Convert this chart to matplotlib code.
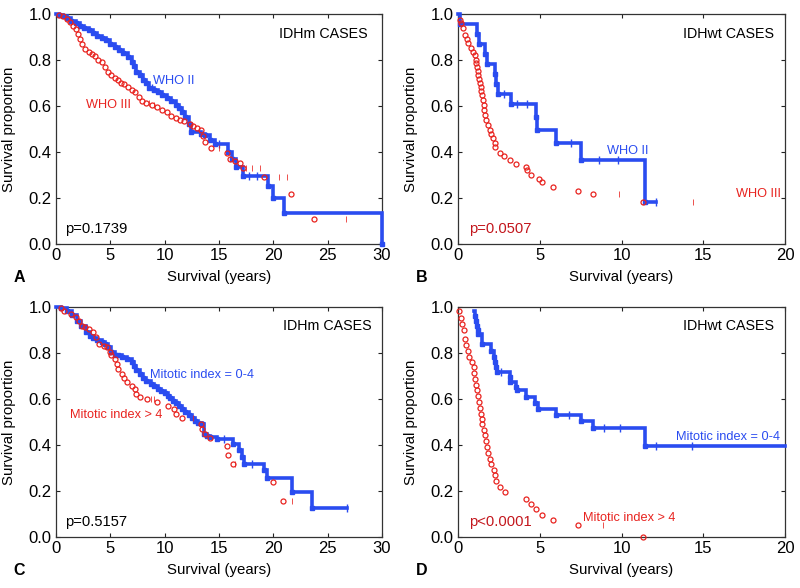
import matplotlib
matplotlib.use("Agg")
import matplotlib.pyplot as plt
import numpy as np

plt.rcParams['font.family'] = ['Liberation Sans', 'DejaVu Sans']

BLUE = '#2a4cf0'
RED = '#e8231f'
DARKRED = '#c3161c'

# ---------------- Panel A: IDHm, WHO II vs WHO III ----------------
A_blue_t = [0.3, 0.6, 1.0, 1.4, 1.8, 2.2, 2.6, 3.0, 3.4, 3.8, 4.2, 4.6, 5.0, 5.4, 5.8, 6.2, 6.6,
            7.0, 7.2, 7.4, 7.7, 8.0, 8.3, 8.6, 9.0, 9.4, 9.8, 10.2, 10.6, 11.0, 11.3, 11.6, 11.9,
            12.2, 12.4, 13.3, 13.7, 14.2, 14.6, 15.85, 16.2, 16.6, 17.2, 19.5, 20.0, 21.0, 30.0]
A_blue_s = [0.997, 0.992, 0.982, 0.972, 0.962, 0.950, 0.941, 0.931, 0.920, 0.906, 0.896, 0.888,
            0.872, 0.858, 0.845, 0.830, 0.815, 0.790, 0.775, 0.750, 0.735, 0.715, 0.700, 0.680,
            0.672, 0.660, 0.648, 0.636, 0.620, 0.605, 0.592, 0.575, 0.552, 0.520, 0.486, 0.480,
            0.474, 0.452, 0.433, 0.400, 0.370, 0.335, 0.295, 0.252, 0.200, 0.133, 0.0]
A_blue_end = 30.0
A_blue_cens_t = [8.8, 15.0, 17.8, 18.5]
A_blue_cens_s = [0.680, 0.433, 0.295, 0.295]

A_red_t = [0.3, 0.6, 1.0, 1.3, 1.6, 1.8, 2.0, 2.2, 2.4, 2.7, 3.0, 3.3, 3.6, 3.9, 4.2, 4.5, 4.8, 5.1,
           5.4, 5.7, 6.0, 6.3, 6.6, 7.0, 7.3, 7.6, 7.9, 8.3, 8.8, 9.3, 9.8, 10.2, 10.6, 11.0, 11.4,
           11.8, 12.3, 12.6, 13.0, 13.3, 13.5, 13.7, 14.3, 15.7, 16.0, 16.5, 16.9, 17.2, 19.1,
           21.6, 23.7]
A_red_s = [0.995, 0.99, 0.98, 0.965, 0.95, 0.935, 0.915, 0.89, 0.87, 0.848, 0.835, 0.828, 0.818,
           0.80, 0.79, 0.77, 0.75, 0.735, 0.72, 0.712, 0.70, 0.694, 0.685, 0.672, 0.66, 0.64,
           0.62, 0.612, 0.605, 0.597, 0.585, 0.575, 0.558, 0.548, 0.54, 0.533, 0.522, 0.515,
           0.505, 0.495, 0.47, 0.445, 0.416, 0.394, 0.37, 0.36, 0.354, 0.33, 0.293, 0.217, 0.109]
A_red_cens_t = [8.6, 9.0, 15.0, 17.5, 18.0, 18.8, 20.5, 21.3, 26.7]
A_red_cens_s = [0.612, 0.605, 0.416, 0.33, 0.33, 0.33, 0.293, 0.293, 0.109]

# ---------------- Panel B: IDHwt, WHO II vs WHO III ----------------
B_blue_t = [0.1, 1.16, 1.27, 1.63, 1.78, 2.24, 2.35, 2.45, 3.22, 4.76, 4.84, 6.02, 7.55, 11.43]
B_blue_s = [0.957, 0.913, 0.870, 0.826, 0.783, 0.739, 0.696, 0.652, 0.608, 0.551, 0.495, 0.44,
            0.367, 0.183]
B_blue_end = 12.1
B_blue_cens_t = [2.8, 3.6, 4.2, 6.9, 8.6, 9.8, 12.1]
B_blue_cens_s = [0.652, 0.608, 0.608, 0.44, 0.367, 0.367, 0.183]

B_red_t = [0.1, 0.2, 0.3, 0.45, 0.57, 0.6, 0.8, 0.92, 1.02, 1.08, 1.12, 1.16, 1.2, 1.24, 1.29,
           1.33, 1.39, 1.43, 1.47, 1.53, 1.57, 1.61, 1.67, 1.73, 1.84, 1.94, 2.02, 2.14, 2.24,
           2.29, 2.55, 2.82, 3.16, 3.57, 4.18, 4.22, 4.49, 4.96, 5.16, 5.78, 7.31, 8.27, 11.33]
B_red_s = [0.974, 0.962, 0.938, 0.909, 0.89, 0.873, 0.854, 0.836, 0.82, 0.80, 0.786, 0.771,
           0.754, 0.735, 0.716, 0.70, 0.685, 0.667, 0.648, 0.627, 0.605, 0.583, 0.56, 0.54,
           0.518, 0.496, 0.478, 0.46, 0.439, 0.42, 0.398, 0.384, 0.366, 0.349, 0.337, 0.32,
           0.301, 0.282, 0.268, 0.248, 0.232, 0.217, 0.181]
B_red_cens_t = [9.84, 14.35]
B_red_cens_s = [0.217, 0.181]

# ---------------- Panel C: IDHm, mitotic index ----------------
C_blue_t = [0.5, 1.0, 1.5, 1.9, 2.3, 2.8, 3.1, 3.4, 3.8, 4.2, 4.5, 4.8, 5.1, 5.4, 5.7, 6.1, 6.5,
            7.0, 7.2, 7.4, 7.7, 8.0, 8.3, 8.7, 9.0, 9.4, 9.7, 10.0, 10.3, 10.5, 10.8, 11.0, 11.3,
            11.6, 11.9, 12.2, 12.5, 12.8, 13.1, 13.4, 13.6, 13.9, 14.2, 14.8, 16.3, 16.8, 17.1,
            17.3, 19.1, 19.4, 21.7, 23.6]
C_blue_s = [0.995, 0.985, 0.965, 0.94, 0.918, 0.89, 0.875, 0.866, 0.858, 0.85, 0.84, 0.825,
            0.805, 0.793, 0.79, 0.784, 0.776, 0.76, 0.745, 0.727, 0.71, 0.692, 0.677, 0.665,
            0.655, 0.643, 0.635, 0.625, 0.612, 0.603, 0.592, 0.585, 0.572, 0.558, 0.543, 0.529,
            0.516, 0.505, 0.498, 0.49, 0.449, 0.44, 0.435, 0.428, 0.404, 0.377, 0.348, 0.319,
            0.29, 0.258, 0.196, 0.128]
C_blue_end = 26.8
C_blue_cens_t = [15.5, 18.0, 26.8]
C_blue_cens_s = [0.428, 0.319, 0.128]

C_red_t = [0.5, 0.7, 1.4, 1.8, 2.1, 2.4, 2.7, 3.0, 3.4, 3.7, 3.96, 4.4, 4.7, 5.0, 5.1, 5.4, 5.6,
           5.7, 6.05, 6.3, 6.5, 7.0, 7.3, 7.4, 7.7, 8.35, 9.3, 10.35, 10.9, 11.0, 11.6, 13.3,
           13.4, 13.7, 14.2, 15.7, 15.8, 16.3, 20.0, 20.9]
C_red_s = [0.997, 0.983, 0.971, 0.955, 0.939, 0.916, 0.912, 0.905, 0.89, 0.87, 0.838, 0.833,
           0.826, 0.804, 0.79, 0.775, 0.754, 0.732, 0.71, 0.693, 0.674, 0.659, 0.645, 0.623,
           0.609, 0.601, 0.587, 0.568, 0.555, 0.536, 0.519, 0.493, 0.471, 0.449, 0.432, 0.394,
           0.355, 0.319, 0.239, 0.157]
C_red_cens_t = [8.7, 9.0, 12.6, 16.5, 21.7]
C_red_cens_s = [0.601, 0.601, 0.519, 0.319, 0.157]

# ---------------- Panel D: IDHwt, mitotic index ----------------
D_blue_start = (1.0, 0.983)
D_blue_t = [1.05, 1.1, 1.15, 1.2, 1.25, 1.49, 2.04, 2.2, 2.25, 2.35, 2.4, 3.16, 3.2, 3.57, 3.6,
            4.18, 4.69, 4.9, 6.02, 7.55, 8.27, 11.43]
D_blue_s = [0.962, 0.941, 0.92, 0.90, 0.884, 0.841, 0.81, 0.783, 0.76, 0.74, 0.717, 0.695,
            0.674, 0.652, 0.638, 0.61, 0.585, 0.558, 0.532, 0.503, 0.475, 0.395]
D_blue_end = 20.0
D_blue_cens_t = [2.6, 6.8, 8.9, 9.9, 12.1, 14.3]
D_blue_cens_s = [0.717, 0.532, 0.475, 0.475, 0.395, 0.395]

D_red_t = [0.06, 0.2, 0.27, 0.35, 0.45, 0.51, 0.61, 0.67, 0.88, 0.96, 1.0, 1.04, 1.08, 1.16,
           1.22, 1.27, 1.33, 1.39, 1.45, 1.49, 1.59, 1.63, 1.69, 1.78, 1.84, 1.94, 2.04, 2.2,
           2.24, 2.35, 2.59, 2.86, 4.18, 4.49, 4.8, 5.16, 5.78, 7.35, 11.33]
D_red_s = [0.983, 0.954, 0.928, 0.901, 0.862, 0.836, 0.809, 0.783, 0.761, 0.739, 0.713, 0.688,
           0.662, 0.638, 0.612, 0.587, 0.562, 0.536, 0.514, 0.493, 0.467, 0.442, 0.417, 0.391,
           0.365, 0.341, 0.316, 0.29, 0.268, 0.242, 0.217, 0.196, 0.167, 0.145, 0.12, 0.094,
           0.072, 0.051, 0.0]
D_red_cens_t = [8.84]
D_red_cens_s = [0.051]

FS_CURVE = 9.2
FS_CASES = 10.3
FS_P = 10.6


def draw_blue(ax, t, s, end, cens_t, cens_s, start=(0.0, 1.0)):
    xs = [start[0]] + list(t) + [end]
    ys = [start[1]] + list(s) + [s[-1]]
    ax.step(xs, ys, where='post', color=BLUE, lw=2.6, solid_joinstyle='miter', zorder=3,
            clip_on=False)
    ax.plot(t, s, 's', ms=3.2, color=BLUE, mec=BLUE, zorder=4, clip_on=False)
    ax.plot(cens_t, cens_s, '|', ms=5.5, mew=1.0, color=BLUE, zorder=4, clip_on=False)


def draw_red(ax, t, s, cens_t, cens_s):
    ax.plot(t, s, 'o', ms=3.6, mfc='none', mec=RED, mew=0.9, zorder=5, clip_on=False)
    ax.plot(cens_t, cens_s, '|', ms=5, mew=0.7, color=RED, alpha=0.8, zorder=5, clip_on=False)


def setup(ax, xmax, letter):
    ax.set_xlim(0, xmax)
    ax.set_ylim(0, 1.0)
    ax.set_xticks(np.arange(0, xmax + 1, 5))
    ax.set_yticks(np.arange(0, 1.01, 0.2))
    ax.set_yticklabels(['%.1f' % v for v in np.arange(0, 1.01, 0.2)])
    ax.tick_params(direction='in', top=True, right=True, length=3, width=0.8,
                   labelsize=12, pad=3, colors='#222222', labelcolor='black')
    for sp in ax.spines.values():
        sp.set_linewidth(0.9)
        sp.set_color('#333333')
    ax.set_xlabel('Survival (years)', fontsize=10.8, labelpad=5)
    ax.set_ylabel('Survival proportion', fontsize=10.8, labelpad=9)
    ax.text(-0.13, -0.145, letter, transform=ax.transAxes, fontsize=11.5, fontweight='bold',
            ha='left', va='center')


fig = plt.figure(figsize=(8, 5.88), dpi=100)
axA = fig.add_axes([0.07, 0.585, 0.4075, 0.391])
axB = fig.add_axes([0.5725, 0.585, 0.40875, 0.391])
axC = fig.add_axes([0.07, 0.0867, 0.4075, 0.391])
axD = fig.add_axes([0.5725, 0.0867, 0.40875, 0.391])

# A
setup(axA, 30, 'A')
draw_blue(axA, A_blue_t, A_blue_s, A_blue_end, A_blue_cens_t, A_blue_cens_s)
draw_red(axA, A_red_t, A_red_s, A_red_cens_t, A_red_cens_s)
axA.text(28.7, 0.915, 'IDHm CASES', ha='right', va='center', fontsize=FS_CASES)
axA.text(8.9, 0.71, 'WHO II', color=BLUE, ha='left', va='center', fontsize=FS_CURVE)
axA.text(2.8, 0.605, 'WHO III', color=RED, ha='left', va='center', fontsize=FS_CURVE)
axA.text(0.85, 0.065, 'p=0.1739', ha='left', va='center', fontsize=FS_P)

# B
setup(axB, 20, 'B')
draw_blue(axB, B_blue_t, B_blue_s, B_blue_end, B_blue_cens_t, B_blue_cens_s)
draw_red(axB, B_red_t, B_red_s, B_red_cens_t, B_red_cens_s)
axB.text(19.35, 0.915, 'IDHwt CASES', ha='right', va='center', fontsize=FS_CASES)
axB.text(9.1, 0.405, 'WHO II', color=BLUE, ha='left', va='center', fontsize=FS_CURVE)
axB.text(17.0, 0.218, 'WHO III', color=RED, ha='left', va='center', fontsize=FS_CURVE)
axB.text(0.68, 0.065, 'p=0.0507', color=DARKRED, ha='left', va='center', fontsize=FS_P)

# C
setup(axC, 30, 'C')
draw_blue(axC, C_blue_t, C_blue_s, C_blue_end, C_blue_cens_t, C_blue_cens_s)
draw_red(axC, C_red_t, C_red_s, C_red_cens_t, C_red_cens_s)
axC.text(29.05, 0.92, 'IDHm CASES', ha='right', va='center', fontsize=FS_CASES)
axC.text(8.65, 0.705, 'Mitotic index = 0-4', color=BLUE, ha='left', va='center', fontsize=FS_CURVE)
axC.text(1.3, 0.53, 'Mitotic index > 4', color=RED, ha='left', va='center', fontsize=FS_CURVE)
axC.text(0.85, 0.065, 'p=0.5157', ha='left', va='center', fontsize=FS_P)

# D
setup(axD, 20, 'D')
draw_blue(axD, D_blue_t, D_blue_s, D_blue_end, D_blue_cens_t, D_blue_cens_s,
          start=D_blue_start)
draw_red(axD, D_red_t, D_red_s, D_red_cens_t, D_red_cens_s)
axD.text(19.35, 0.92, 'IDHwt CASES', ha='right', va='center', fontsize=FS_CASES)
axD.text(19.7, 0.437, 'Mitotic index = 0-4', color=BLUE, ha='right', va='center', fontsize=FS_CURVE)
axD.text(7.65, 0.082, 'Mitotic index > 4', color=RED, ha='left', va='center', fontsize=FS_CURVE)
axD.text(0.68, 0.065, 'p<0.0001', color=DARKRED, ha='left', va='center', fontsize=FS_P)

fig.savefig('out.png', dpi=100)
